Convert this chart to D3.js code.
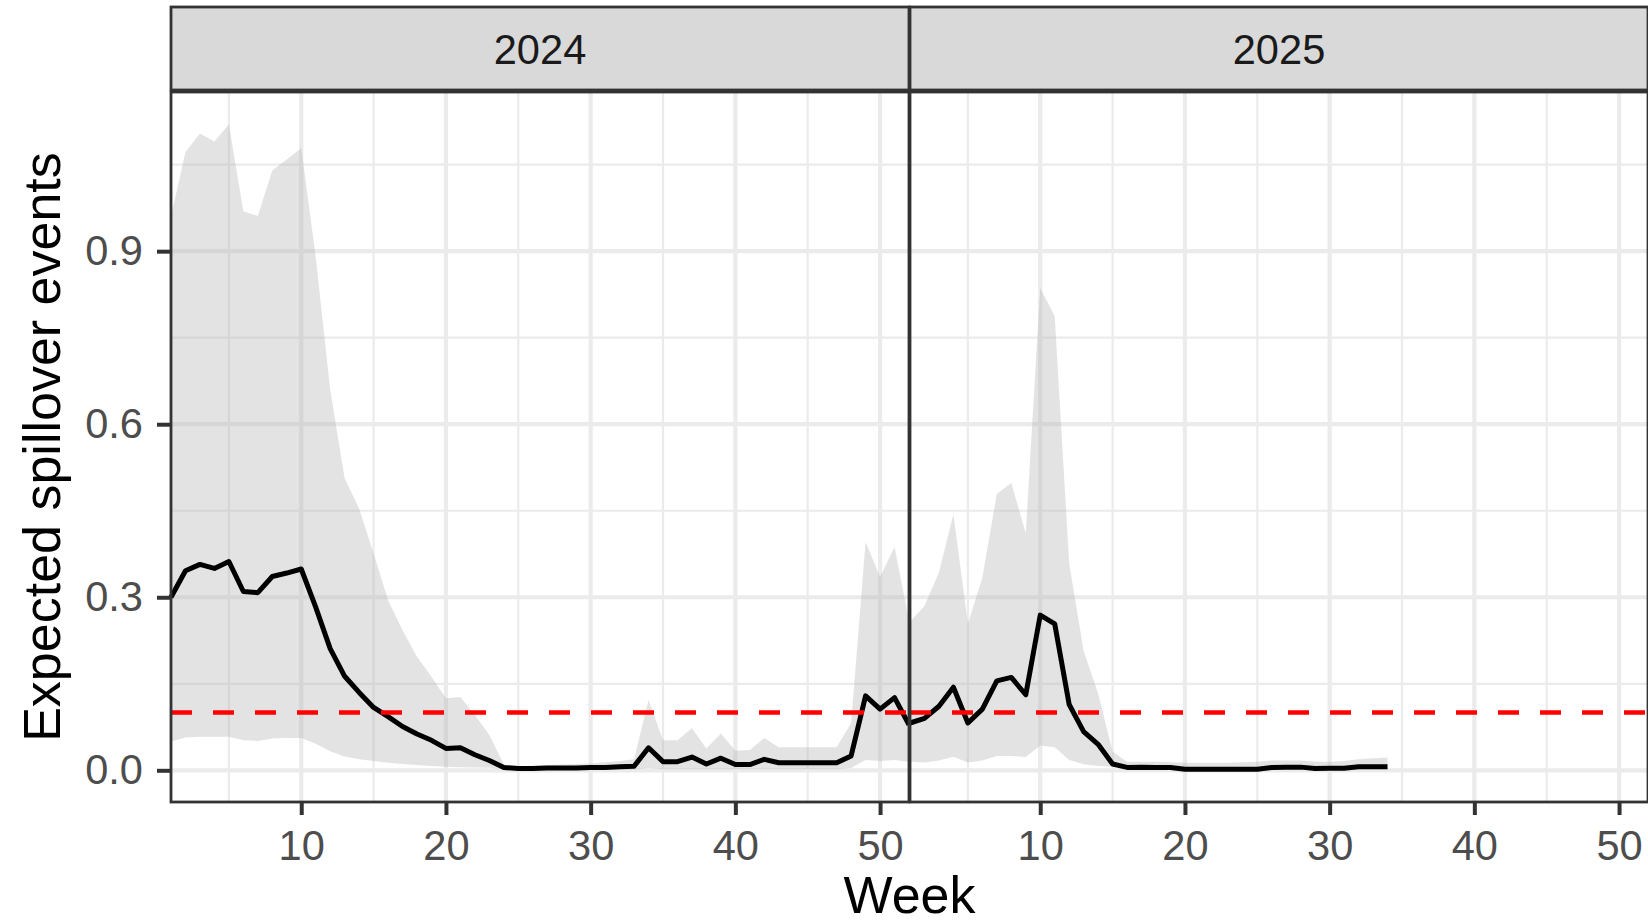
<!DOCTYPE html>
<head>
    <title>Expected spillover events</title>
</head>
<style>
    body { margin: 0; background: #fff; }
    svg { font-family: "Liberation Sans", Arial, Helvetica, sans-serif; }
</style>
<svg width="1648" height="924"></svg>
<script src="https://cdn.jsdelivr.net/npm/d3@7"></script>
<script>

    // weeks and model output
    var years = ["2024", "2025"];

    var weeks2024 = [1,2,3,4,5,6,7,8,9,10,11,12,13,14,15,16,17,18,19,20,21,22,23,24,25,26,
        27,28,29,30,31,32,33,34,35,36,37,38,39,40,41,42,43,44,45,46,47,48,49,50,51,52];
    var median2024 = [0.300,0.346,0.357,0.350,0.362,0.310,0.308,0.336,0.342,0.349,0.283,0.211,0.163,
        0.135,0.109,0.093,0.076,0.063,0.052,0.038,0.039,0.027,0.017,0.005,0.003,0.003,0.004,0.004,
        0.004,0.005,0.005,0.006,0.007,0.039,0.015,0.015,0.023,0.011,0.021,0.010,0.010,0.019,0.013,
        0.013,0.013,0.013,0.013,0.025,0.129,0.106,0.126,0.079];
    var upper2024 = [0.960,1.072,1.104,1.090,1.120,0.969,0.961,1.040,1.059,1.079,0.890,0.660,0.506,
        0.454,0.376,0.295,0.243,0.197,0.162,0.125,0.127,0.096,0.061,0.010,0.007,0.008,0.009,0.010,
        0.011,0.012,0.014,0.016,0.019,0.122,0.052,0.052,0.073,0.038,0.064,0.034,0.035,0.056,0.040,
        0.040,0.040,0.040,0.040,0.082,0.396,0.335,0.387,0.260];
    var lower2024 = [0.050,0.057,0.058,0.058,0.058,0.052,0.051,0.055,0.056,0.056,0.046,0.033,0.024,
        0.019,0.016,0.013,0.011,0.009,0.0075,0.006,0.0055,0.005,0.0045,0.002,0.001,0.001,0.001,0.001,
        0.001,0.001,0.001,0.001,0.001,0.004,0.002,0.002,0.002,0.002,0.002,0.002,0.002,0.002,0.002,
        0.002,0.002,0.002,0.002,0.004,0.018,0.016,0.018,0.015];

    var weeks2025 = [1,2,3,4,5,6,7,8,9,10,11,12,13,14,15,16,17,18,19,20,21,22,23,24,25,26,
        27,28,29,30,31,32,33,34];
    var median2025 = [0.082,0.090,0.111,0.144,0.082,0.106,0.155,0.161,0.131,0.269,0.254,0.114,0.067,
        0.045,0.011,0.005,0.0055,0.005,0.005,0.002,0.002,0.002,0.002,0.002,0.002,0.005,0.0055,0.0055,
        0.003,0.0037,0.0037,0.006,0.006,0.006];
    var upper2025 = [0.257,0.285,0.343,0.444,0.254,0.334,0.479,0.498,0.411,0.836,0.787,0.359,0.207,
        0.133,0.032,0.015,0.015,0.015,0.014,0.013,0.013,0.013,0.013,0.014,0.015,0.017,0.017,0.017,
        0.015,0.015,0.016,0.019,0.021,0.022];
    var lower2025 = [0.015,0.0136,0.017,0.0235,0.0136,0.017,0.025,0.025,0.023,0.043,0.040,0.018,0.0105,
        0.0074,0.006,0.002,0.002,0.002,0.002,0.002,0.002,0.002,0.002,0.002,0.002,0.002,0.002,0.002,
        0.002,0.002,0.002,0.002,0.002,0.002];

    var threshold = 0.1;
    var xTicks = [10, 20, 30, 40, 50];
    var xMinor = [5, 15, 25, 35, 45];
    var yTicks = [0, 0.3, 0.6, 0.9];
    var yMinor = [0.15, 0.45, 0.75, 1.05];

    var series = [
        {year: years[0], weeks: weeks2024, median: median2024, upper: upper2024, lower: lower2024},
        {year: years[1], weeks: weeks2025, median: median2025, upper: upper2025, lower: lower2025}
    ];

    var svg = d3.select("svg");

    var panelW = 738,
        panelTop = 92,
        panelBottom = 802,
        panelX = [171, 910],
        stripTop = 7,
        stripBottom = 90;

    var yMin = d3.min(lower2024.concat(lower2025)),
        yMax = d3.max(upper2024.concat(upper2025)),
        pad = (yMax - yMin) * 0.05;

    var y = d3.scaleLinear()
        .domain([yMin - pad, yMax + pad])
        .range([panelBottom, panelTop]);

    series.forEach(function(s, i) {
        var x0 = panelX[i];
        var x = d3.scaleLinear().domain([1, 52]).range([x0, x0 + panelW]);
        var g = svg.append("g");

        // grid
        g.selectAll(".vminor").data(xMinor).enter().append("line")
            .attr("x1", x).attr("x2", x)
            .attr("y1", panelTop).attr("y2", panelBottom)
            .attr("stroke", "#ebebeb").attr("stroke-width", 2.2);
        g.selectAll(".hminor").data(yMinor).enter().append("line")
            .attr("x1", x0).attr("x2", x0 + panelW)
            .attr("y1", y).attr("y2", y)
            .attr("stroke", "#ebebeb").attr("stroke-width", 2.2);
        g.selectAll(".vmajor").data(xTicks).enter().append("line")
            .attr("x1", x).attr("x2", x)
            .attr("y1", panelTop).attr("y2", panelBottom)
            .attr("stroke", "#ebebeb").attr("stroke-width", 4.2);
        g.selectAll(".hmajor").data(yTicks).enter().append("line")
            .attr("x1", x0).attr("x2", x0 + panelW)
            .attr("y1", y).attr("y2", y)
            .attr("stroke", "#ebebeb").attr("stroke-width", 4.2);

        var idx = d3.range(s.weeks.length);

        var area = d3.area()
            .x(function(j) { return x(s.weeks[j]); })
            .y0(function(j) { return y(s.lower[j]); })
            .y1(function(j) { return y(s.upper[j]); });

        g.append("path")
            .datum(idx)
            .attr("d", area)
            .attr("fill", "#b3b3b3")
            .attr("fill-opacity", 0.37);

        var line = d3.line()
            .x(function(j) { return x(s.weeks[j]); })
            .y(function(j) { return y(s.median[j]); });

        g.append("path")
            .datum(idx)
            .attr("d", line)
            .attr("fill", "none")
            .attr("stroke", "#000")
            .attr("stroke-width", 5)
            .attr("stroke-linejoin", "round");

        g.append("line")
            .attr("x1", x0).attr("x2", x0 + panelW)
            .attr("y1", y(threshold)).attr("y2", y(threshold))
            .attr("stroke", "#ff0000")
            .attr("stroke-width", 4.5)
            .attr("stroke-dasharray", "21,21");

        // x axis
        var xAxis = d3.axisBottom(x)
            .tickValues(xTicks)
            .tickSize(13)
            .tickPadding(15.5)
            .tickFormat(d3.format("d"));

        var ax = g.append("g")
            .attr("transform", "translate(0," + panelBottom + ")")
            .call(xAxis);
        ax.select(".domain").remove();
        ax.selectAll("line").attr("stroke", "#333333").attr("stroke-width", 4);
        ax.selectAll("text")
            .attr("fill", "#4d4d4d")
            .style("font-size", "41.6px")
            .style("font-family", "'Liberation Sans', Arial, sans-serif");

        // border
        g.append("rect")
            .attr("x", x0).attr("y", panelTop)
            .attr("width", panelW).attr("height", panelBottom - panelTop)
            .attr("fill", "none")
            .attr("stroke", "#333333")
            .attr("stroke-width", 2.8);

        // strip
        g.append("rect")
            .attr("x", x0).attr("y", stripTop)
            .attr("width", panelW).attr("height", stripBottom - stripTop)
            .attr("fill", "#d9d9d9")
            .attr("stroke", "#333333")
            .attr("stroke-width", 2.8);

        g.append("text")
            .attr("x", x0 + panelW / 2)
            .attr("y", 64)
            .attr("text-anchor", "middle")
            .attr("fill", "#1a1a1a")
            .style("font-size", "41.6px")
            .text(s.year);
    });

    // y axis on the first panel
    var yAxis = d3.axisLeft(y)
        .tickValues(yTicks)
        .tickSize(14)
        .tickPadding(14)
        .tickFormat(d3.format(".1f"));

    var ay = svg.append("g")
        .attr("transform", "translate(" + panelX[0] + ",0)")
        .call(yAxis);
    ay.select(".domain").remove();
    ay.selectAll("line").attr("stroke", "#333333").attr("stroke-width", 4);
    ay.selectAll("text")
        .attr("fill", "#4d4d4d")
        .style("font-size", "41.6px")
        .style("font-family", "'Liberation Sans', Arial, sans-serif");

    svg.append("text")
        .attr("x", (panelX[0] + panelX[1] + panelW) / 2)
        .attr("y", 913)
        .attr("text-anchor", "middle")
        .attr("fill", "#000")
        .style("font-size", "52px")
        .text("Week");

    svg.append("text")
        .attr("transform", "translate(60," + (panelTop + panelBottom) / 2 + ") rotate(-90)")
        .attr("text-anchor", "middle")
        .attr("fill", "#000")
        .style("font-size", "52px")
        .text("Expected spillover events");

</script>
